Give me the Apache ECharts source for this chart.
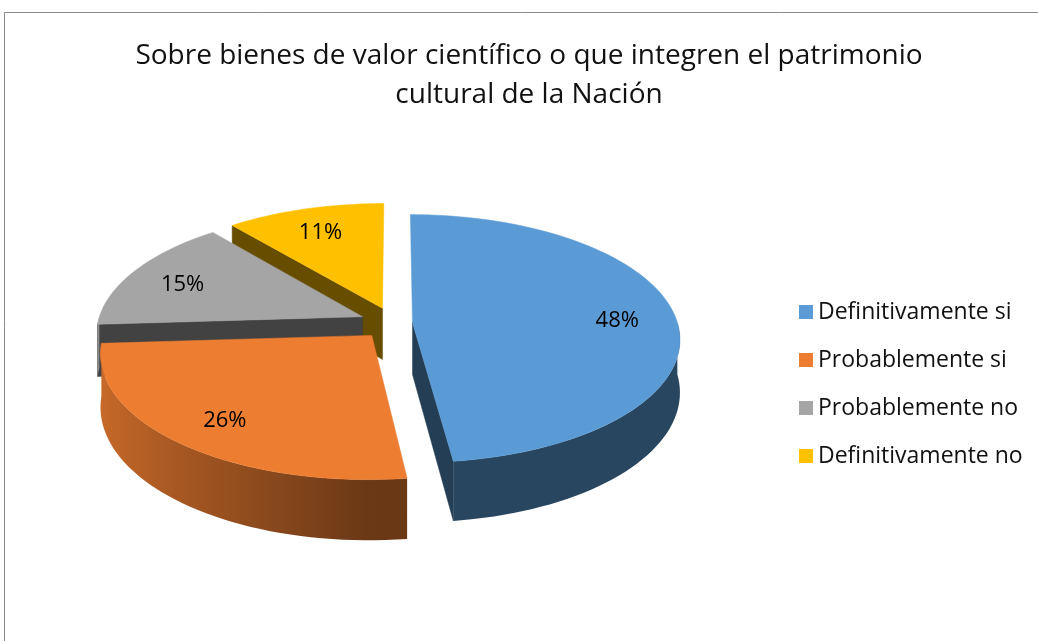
<!DOCTYPE html>
<html>
<head>
<meta charset="utf-8">
<title>Sobre bienes de valor científico</title>
<script src="https://cdn.jsdelivr.net/npm/echarts@6/dist/echarts.min.js"></script>
<style>
  html, body { margin: 0; padding: 0; background: #fff; }
  #pie3d { width: 1038px; height: 641px; }
</style>
</head>
<body>
<div id="pie3d"></div>
<script>
var titleText = 'Sobre bienes de valor científico o que integren el patrimonio\ncultural de la Nación';
var categories = ['Definitivamente si', 'Probablemente si', 'Probablemente no', 'Definitivamente no'];
var shares = [48, 26, 15, 11];
var sliceColors = ['#5b9bd5', '#ed7d31', '#a5a5a5', '#ffc000'];
var explodeBy = [0.07, 0.13, 0.13, 0.13];

// pseudo 3d pie geometry (pixels)
var cx = 394, cy = 323, rx = 265, ry = 122, depth = 52, persp = 0.13;
var fontName = '"Open Sans", "Noto Sans", sans-serif';

function project(X, Z, h) {
    var s = 1 / (1 + persp * Z);
    return [cx + rx * X * s, cy - ry * Z * s + h * depth * s];
}

function shade(hex, k) {
    var n = parseInt(hex.slice(1), 16);
    var r = Math.round(((n >> 16) & 255) * k);
    var g = Math.round(((n >> 8) & 255) * k);
    var b = Math.round((n & 255) * k);
    return 'rgb(' + r + ',' + g + ',' + b + ')';
}

function rad(d) { return d * Math.PI / 180; }

function buildSlice(i) {
    var total = shares.reduce(function (a, b) { return a + b; }, 0);
    var before = 0;
    for (var j = 0; j < i; j++) before += shares[j];
    var a0 = before / total * 360;
    var a1 = (before + shares[i]) / total * 360;
    var mid = (a0 + a1) / 2;
    var ox = explodeBy[i] * Math.sin(rad(mid));
    var oz = explodeBy[i] * Math.cos(rad(mid));
    var base = sliceColors[i];
    function pt(deg, r, h) {
        return project(ox + r * Math.sin(rad(deg)), oz + r * Math.cos(rad(deg)), h);
    }
    function arc(from, to, h) {
        var n = Math.max(1, Math.ceil((to - from) / 2));
        var out = [];
        for (var k = 0; k <= n; k++) out.push(pt(from + (to - from) * k / n, 1, h));
        return out;
    }
    var children = [];

    // radial side walls
    var walls = [[a0, Math.sin(rad(a0)) < -0.01], [a1, Math.sin(rad(a1)) > 0.01]];
    walls.forEach(function (w) {
        if (!w[1]) return;
        var c = shade(base, 0.4);
        children.push({
            type: 'polygon',
            z2: 10 + (1 - (oz + 0.5 * Math.cos(rad(w[0])))) * 10,
            shape: { points: [pt(0, 0, 0), pt(w[0], 1, 0), pt(w[0], 1, 1), pt(0, 0, 1)] },
            style: { fill: c, stroke: c, lineWidth: 0.5 }
        });
    });

    // outer curved wall (front facing part only)
    var lo = Math.max(a0, 90), hi = Math.min(a1, 270);
    if (lo < hi) {
        var topPts = arc(lo, hi, 0);
        var botPts = arc(lo, hi, 1).reverse();
        var xs = topPts.map(function (p) { return p[0]; });
        var xmin = Math.min.apply(null, xs), xmax = Math.max.apply(null, xs);
        var n = topPts.length - 1;
        var stops = topPts.map(function (p, k) {
            var ang = lo + (hi - lo) * k / n;
            var br = 0.45 + 0.4 * Math.max(0, -Math.sin(rad(ang)));
            return { offset: (p[0] - xmin) / Math.max(1, xmax - xmin), color: shade(base, br) };
        }).sort(function (a, b) { return a.offset - b.offset; });
        var grad = { type: 'linear', x: xmin, y: 0, x2: xmax, y2: 0, global: true, colorStops: stops };
        children.push({
            type: 'polygon',
            z2: 10 + (1 - (oz + Math.cos(rad((lo + hi) / 2)))) * 10,
            shape: { points: topPts.concat(botPts) },
            style: { fill: grad }
        });
    }

    // top face
    children.push({
        type: 'polygon',
        z2: 100,
        shape: { points: [pt(0, 0, 0)].concat(arc(a0, a1, 0)) },
        style: { fill: base, stroke: base, lineWidth: 0.5 }
    });

    // percentage label
    var lp = pt(mid, 0.78, 0);
    children.push({
        type: 'text',
        z2: 200,
        style: {
            text: shares[i] + '%',
            x: lp[0], y: lp[1] + 4,
            fill: '#000',
            font: '22px ' + fontName,
            align: 'center', verticalAlign: 'middle',
            textAlign: 'center', textVerticalAlign: 'middle'
        }
    });
    return { type: 'group', children: children };
}

var chart = echarts.init(document.getElementById('pie3d'));
var option = {
    backgroundColor: '#fff',
    animation: false,
    title: {
        text: titleText,
        left: 524,
        top: 32,
        textAlign: 'center',
        textStyle: {
            fontFamily: fontName,
            fontSize: 28,
            fontWeight: 'normal',
            color: '#111',
            lineHeight: 39
        }
    },
    legend: {
        orient: 'vertical',
        left: 794,
        top: 295,
        icon: 'rect',
        itemWidth: 14,
        itemHeight: 14,
        itemGap: 24,
        selectedMode: false,
        data: categories,
        textStyle: { fontFamily: fontName, fontSize: 23, lineHeight: 24, color: '#111' }
    },
    graphic: [{
        type: 'rect',
        silent: true,
        z: -1,
        shape: { x: 4.5, y: 12.5, width: 1100, height: 700 },
        style: { fill: null, stroke: '#8a8a8a', lineWidth: 1 }
    }],
    series: categories.map(function (name, i) {
        return {
            type: 'custom',
            name: name,
            coordinateSystem: 'none',
            silent: true,
            itemStyle: { color: sliceColors[i] },
            data: [shares[i]],
            renderItem: function () { return buildSlice(i); }
        };
    })
};
chart.setOption(option);
window.onresize = function () {
    chart.resize();
};
</script>
</body>
</html>
